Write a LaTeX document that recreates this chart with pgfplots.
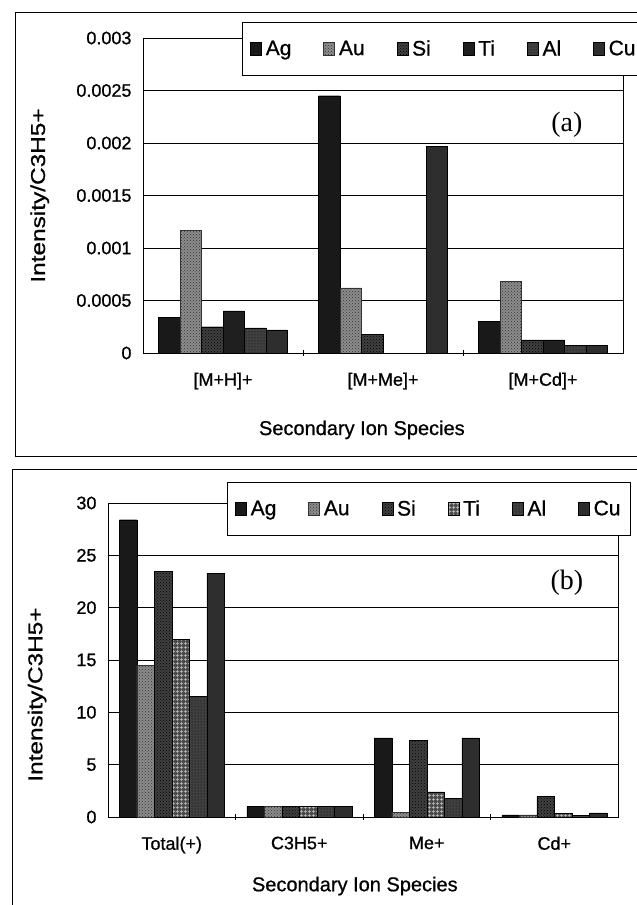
\documentclass[border=0pt]{standalone}
\usepackage{pgfplots}
\pgfplotsset{compat=1.18}
\usepackage{fontspec}
\setmainfont{Liberation Sans}[FakeBold=0.8]
\newfontfamily\seriffont{Liberation Serif}
\usetikzlibrary{patterns}

\pgfdeclarepatternformonly{fgrid}{\pgfpointorigin}{\pgfpoint{4pt}{4pt}}{\pgfpoint{4pt}{4pt}}{%
  \pgfsetlinewidth{0.7pt}%
  \pgfpathmoveto{\pgfpoint{0pt}{2pt}}\pgfpathlineto{\pgfpoint{4pt}{2pt}}%
  \pgfpathmoveto{\pgfpoint{2pt}{0pt}}\pgfpathlineto{\pgfpoint{2pt}{4pt}}%
  \pgfusepath{stroke}}

\pgfplotsset{
  sq/.style={legend image code/.code={\draw[##1,line width=0.5pt] (0pt,-7pt) rectangle (11pt,6pt);}},
  sAg/.style={fill=black!90, draw=black, sq},
  sAu/.style={fill=black!45, draw=black!80, postaction={pattern=crosshatch dots, pattern color=black!80}, sq},
  sSi/.style={fill=black!75, draw=black, postaction={pattern=crosshatch dots, pattern color=black}, sq},
  sTia/.style={fill=black!88, draw=black, sq},
  sTib/.style={fill=black!70, draw=black, postaction={pattern=fgrid, pattern color=black!20}, sq},
  sAl/.style={fill=black!75, draw=black, postaction={pattern=dots, pattern color=black}, sq},
  sCu/.style={fill=black!82, draw=black, sq},
  common/.style={
    scale only axis,
    ybar=0pt,
    ymin=0,
    ymajorgrids,
    grid style={black, line width=0.6pt},
    axis line style={black, line width=0.8pt},
    ytick style={draw=none},
    major x tick style={draw=none},
    minor x tick style={black, line width=0.6pt},
    minor tick length=6pt,
    xtick align=center,
    /pgf/number format/assume math mode=true,
    tick label style={font=\fontsize{18}{20}\selectfont},
    yticklabel style={xshift=-8pt},
    xticklabel style={yshift=-14pt},
    label style={font=\fontsize{20}{22}\selectfont},
    legend columns=6,
    legend style={anchor=north west, draw=black, line width=0.8pt, fill=white,
      font=\fontsize{21}{24}\selectfont, inner xsep=8pt, inner ysep=16pt,
      /tikz/every even column/.append style={column sep=30pt},
      /tikz/every odd column/.append style={column sep=2pt}},
    xlabel={Secondary Ion Species},
    ylabel={Intensity/C3H5+},
  }
}

\begin{document}
\begin{tikzpicture}[x=1pt,y=1pt]
\path[use as bounding box] (0,0) rectangle (637,905);
\draw[line width=0.8pt] (637,893) -- (15,893) -- (15,449) -- (637,449);
\draw[line width=0.8pt] (637,436) -- (12,436) -- (12,0);

% ---------------- panel (a)
\begin{axis}[common,
  at={(143pt,552pt)}, anchor=south west,
  width=480pt, height=315pt,
  bar width=21.5pt,
  xmin=-0.5, xmax=2.5,
  xtick={0,1,2},
  xticklabels={{[M+H]+},{[M+Me]+},{[M+Cd]+}},
  minor xtick={0.5,1.5},
  ymax=0.003,
  ytick={0,0.0005,0.001,0.0015,0.002,0.0025,0.003},
  yticklabels={0,0.0005,0.001,0.0015,0.002,0.0025,0.003},
  scaled y ticks=false,
  legend style={at={(0.206,1.051)}},
  xlabel style={at={(axis description cs:0.456,-0.244)}, anchor=center},
  ylabel style={at={(axis description cs:-0.215,0.5)}, anchor=center, xscale=1.22},
]
\addplot[sAg] coordinates {(0,0.00034) (1,0.00245) (2,0.00030)};
\addplot[sAu] coordinates {(0,0.00117) (1,0.00062) (2,0.00068)};
\addplot[sSi] coordinates {(0,0.00025) (1,0.00018) (2,0.000125)};
\addplot[sTia] coordinates {(0,0.00040) (2,0.000125)};
\addplot[sAl] coordinates {(0,0.00024) (2,0.00007)};
\addplot[sCu] coordinates {(0,0.00022) (1,0.00197) (2,0.00007)};
\legend{Ag,Au,Si,Ti,Al,Cu}
\node[font=\seriffont\fontsize{28}{30}\selectfont] at (rel axis cs:0.883,0.724) {(a)};
\end{axis}

% ---------------- panel (b)
\begin{axis}[common,
  at={(108pt,88pt)}, anchor=south west,
  width=510pt, height=314pt,
  bar width=17.5pt,
  xmin=-0.5, xmax=3.5,
  xtick={0,1,2,3},
  xticklabels={Total(+),C3H5+,Me+,Cd+},
  minor xtick={0.5,1.5,2.5},
  ymax=30,
  ytick={0,5,10,15,20,25,30},
  legend style={at={(0.233,1.067)}},
  xlabel style={at={(axis description cs:0.484,-0.22)}, anchor=center},
  ylabel style={at={(axis description cs:-0.139,0.39)}, anchor=center, xscale=1.22},
]
\addplot[sAg] coordinates {(0,28.4) (1,1.0) (2,7.55) (3,0.2)};
\addplot[sAu] coordinates {(0,14.5) (1,1.0) (2,0.45) (3,0.2)};
\addplot[sSi] coordinates {(0,23.5) (1,1.0) (2,7.3) (3,1.95)};
\addplot[sTib] coordinates {(0,17.0) (1,1.0) (2,2.4) (3,0.35)};
\addplot[sAl] coordinates {(0,11.5) (1,1.0) (2,1.8) (3,0.15)};
\addplot[sCu] coordinates {(0,23.3) (1,1.0) (2,7.55) (3,0.4)};
\legend{Ag,Au,Si,Ti,Al,Cu}
\node[font=\seriffont\fontsize{28}{30}\selectfont] at (rel axis cs:0.9,0.745) {(b)};
\end{axis}
\end{tikzpicture}
\end{document}
